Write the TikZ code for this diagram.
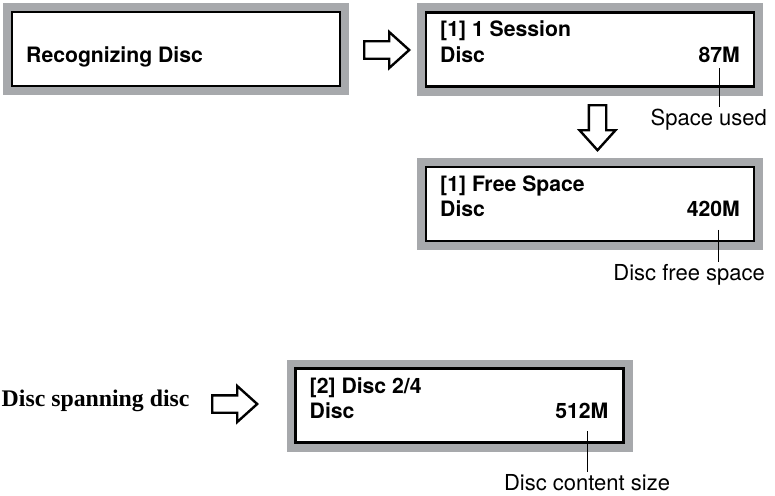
\documentclass[tikz,border=0pt]{standalone}
\usepackage{fontspec}
\setmainfont{TeX Gyre Heros}
\newfontfamily\timesfont{Liberation Serif}
\usetikzlibrary{shapes.arrows}

\definecolor{panelgray}{RGB}{167,169,172}

\tikzset{
    panel/.style={draw=black, line width=2.6pt, fill=white, inner sep=0pt, outer sep=0pt,
        minimum width=328pt, minimum height=74pt,
        preaction={draw=panelgray, line width=18pt}},
    lcd/.style={font=\fontsize{21.2}{25}\selectfont\bfseries, inner sep=0pt},
    callout/.style={font=\fontsize{22}{26}\selectfont, inner sep=0pt, outer ysep=2pt},
    sidenote/.style={font={\fontsize{23.8}{28}\timesfont\bfseries}, inner sep=0pt},
    blockarrow/.style={single arrow, draw=black, line width=2.4pt, fill=white,
        minimum height=45pt, inner sep=7.5pt, single arrow head extend=9.3pt,
        single arrow tip angle=84},
    leader/.style={draw=black, line width=0.9pt}
}

\begin{document}
\begin{tikzpicture}[x=1pt, y=-1pt]
        \useasboundingbox (0,0) rectangle (775,495);
        % the four display panels
        \node[panel] (recog) at (176,49) {};
        \node[panel] (usage) at (590,49.5) {};
        \node[panel] (free) at (590,204) {};
        \node[panel] (span) at (459.5,405.5) {};

        % panel texts
        \node[lcd, anchor=base west] (recogtxt) at ([xshift=14pt, yshift=-14pt]recog.west) {Recognizing Disc};
        \node[lcd, anchor=base west] (usagetop) at ([xshift=14pt, yshift=12.5pt]usage.west) {[1] 1 Session};
        \node[lcd, anchor=base west] (usagedisc) at ([xshift=14pt, yshift=-12.5pt]usage.west) {Disc};
        \node[lcd, anchor=base east] (n87) at ([xshift=-14pt, yshift=-12.5pt]usage.east) {87M};
        \node[lcd, anchor=base west] (freetop) at ([xshift=14pt, yshift=12.5pt]free.west) {[1] Free Space};
        \node[lcd, anchor=base west] (freedisc) at ([xshift=14pt, yshift=-12.5pt]free.west) {Disc};
        \node[lcd, anchor=base east] (n420) at ([xshift=-14pt, yshift=-12.5pt]free.east) {420M};
        \node[lcd, anchor=base west] (spantop) at ([xshift=14pt, yshift=12.5pt]span.west) {[2] Disc 2/4};
        \node[lcd, anchor=base west] (spandisc) at ([xshift=14pt, yshift=-12.5pt]span.west) {Disc};
        \node[lcd, anchor=base east] (n512) at ([xshift=-15pt, yshift=-12.5pt]span.east) {512M};

        % block arrows
        \node[blockarrow, anchor=tail] (a1) at ([xshift=23pt, yshift=-1pt]recog.east) {};
        \node[blockarrow, anchor=tail, rotate=-90] (a2) at ([xshift=7.5pt, yshift=-17.5pt]usage.south) {};
        \node[sidenote, anchor=base west] (spannote) at (1.5,406.5) {Disc spanning disc};
        \node[blockarrow, anchor=tail] (a3) at (211,404) {};

        % callouts
        \node[callout, anchor=base east] (usedlbl) at (767,125) {Space used};
        \node[callout, anchor=base east] (freelbl) at (765,280) {Disc free space};
        \node[callout, anchor=base] (sizelbl) at (587,490) {Disc content size};
        \draw[leader] ([xshift=-21pt, yshift=-6pt]n87.south east) coordinate (p87) -- (p87 |- usedlbl.north);
        \draw[leader] ([xshift=-22pt, yshift=-13pt]n420.south east) coordinate (p420) -- (p420 |- freelbl.north);
        \draw[leader] ([xshift=-21pt, yshift=-13pt]n512.south east) coordinate (p512) -- (p512 |- sizelbl.north);
    \end{tikzpicture}
\end{document}
